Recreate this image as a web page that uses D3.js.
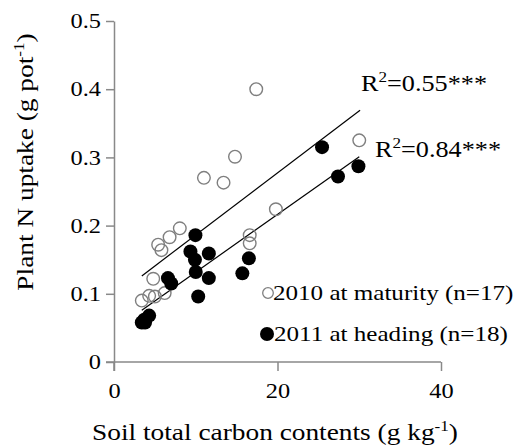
<!DOCTYPE html>
<html>
<head>
<meta charset="utf-8">
<script src="https://cdn.jsdelivr.net/npm/d3@7"></script>
<style>
  body { margin: 0; background: #fff; }
  svg text { font-family: "Liberation Serif", "Times New Roman", serif; }
  .axis path, .axis line { stroke: #898989; stroke-width: 1.5; }
  .axis text { font-size: 21px; fill: #000; }
</style>
</head>
<body>
<svg width="520" height="446"></svg>
<script>
// 2010 at maturity (open circles)
const x2010 = [17.4, 14.8, 11.0, 13.4, 30.0, 19.8, 8.05, 6.8, 5.4, 5.8, 16.6, 16.6, 4.8, 3.4, 4.3, 5.0, 6.2];
const y2010 = [0.400, 0.301, 0.270, 0.263, 0.325, 0.224, 0.196, 0.183, 0.172, 0.164, 0.186, 0.174, 0.122, 0.090, 0.097, 0.096, 0.101];
// 2011 at heading (filled circles)
const x2011 = [25.45, 27.4, 29.9, 9.96, 9.35, 9.9, 11.6, 10.0, 11.6, 10.3, 6.6, 7.0, 15.7, 16.5, 3.4, 3.8, 4.3, 3.7];
const y2011 = [0.315, 0.272, 0.287, 0.186, 0.162, 0.150, 0.159, 0.132, 0.123, 0.096, 0.123, 0.115, 0.130, 0.152, 0.058, 0.058, 0.068, 0.062];
// fitted lines: [slope, intercept, xstart, xend]
const fit2010 = [0.0091, 0.0953, 3.4, 30.1];
const fit2011 = [0.00846, 0.0472, 3.4, 30.0];
const xTicks = [0, 20, 40];
const yTicks = [0, 0.1, 0.2, 0.3, 0.4, 0.5];

const svg = d3.select('svg');
const sx = 1.14; // glyphs in the reference are wider than Times
const tsx = 1.16;

const xScale = d3.scaleLinear().domain([0, 40]).range([114, 441]);
const yScale = d3.scaleLinear().domain([0, 0.5]).range([362, 21]);

const xAxisG = svg.append('g')
  .attr('class', 'axis')
  .attr('transform', `translate(0,${yScale(0)})`)
  .call(d3.axisBottom(xScale).tickValues(xTicks).tickFormat(d3.format('d'))
    .tickSize(9).tickSizeOuter(0).tickPadding(12));
xAxisG.attr('font-family', null).attr('font-size', null);
xAxisG.select('.domain').attr('d', `M${xScale(0) - 8},0H${xScale(40)}`);
xAxisG.selectAll('.tick text').attr('transform', `scale(${tsx},1)`);

const yAxisG = svg.append('g')
  .attr('class', 'axis')
  .attr('transform', `translate(${xScale(0)},0)`)
  .call(d3.axisLeft(yScale).tickValues(yTicks).tickFormat(d => d === 0 ? '0' : d3.format('.1f')(d))
    .tickSize(8).tickSizeOuter(0).tickPadding(6));
yAxisG.attr('font-family', null).attr('font-size', null);
yAxisG.selectAll('.tick text').attr('x', -13 / tsx).attr('transform', `scale(${tsx},1)`);
// y axis runs down past 0 like a tick
yAxisG.append('line').attr('x1', 0).attr('x2', 0).attr('y1', yScale(0)).attr('y2', yScale(0) + 9);

function label(x, y, size, rot) {
  return svg.append('text')
    .attr('transform', `translate(${x},${y})` + (rot ? ` rotate(${rot})` : '') + ` scale(${sx},1)`)
    .attr('font-size', size)
    .attr('fill', '#000');
}

// regression lines
[fit2010, fit2011].forEach(f => {
  svg.append('line')
    .attr('x1', xScale(f[2])).attr('y1', yScale(f[0] * f[2] + f[1]))
    .attr('x2', xScale(f[3])).attr('y2', yScale(f[0] * f[3] + f[1]))
    .attr('stroke', '#000').attr('stroke-width', 1.2);
});

// points
svg.append('g').selectAll('circle').data(x2010.map((x, i) => [x, y2010[i]]))
  .enter().append('circle')
  .attr('cx', d => xScale(d[0])).attr('cy', d => yScale(d[1])).attr('r', 6.3)
  .attr('fill', 'none').attr('stroke', '#7f7f7f').attr('stroke-width', 1.4);

svg.append('g').selectAll('circle').data(x2011.map((x, i) => [x, y2011[i]]))
  .enter().append('circle')
  .attr('cx', d => xScale(d[0])).attr('cy', d => yScale(d[1])).attr('r', 7)
  .attr('fill', '#000');

// R2 labels
function r2(x, y, val) {
  const t = label(x, y, 23);
  t.append('tspan').text('R');
  t.append('tspan').attr('font-size', 15).attr('dy', -9).text('2');
  t.append('tspan').attr('dy', 9).text('=' + val + '***');
}
r2(361, 91, '0.55');
r2(375, 157, '0.84');

// legend
svg.append('circle').attr('cx', 268).attr('cy', 293).attr('r', 5.3)
  .attr('fill', 'none').attr('stroke', '#7f7f7f').attr('stroke-width', 1.3);
label(273, 300, 22).text('2010 at maturity (n=17)');
svg.append('circle').attr('cx', 267).attr('cy', 334).attr('r', 7).attr('fill', '#000');
label(274, 341, 22).text('2011 at heading (n=18)');

// axis titles
const xt = label(275, 440, 24).attr('text-anchor', 'middle');
xt.append('tspan').text('Soil total carbon contents (g kg');
xt.append('tspan').attr('font-size', 15).attr('dy', -9).text('-1');
xt.append('tspan').attr('dy', 9).text(')');

const yt = label(33, 162, 24, -90).attr('text-anchor', 'middle');
yt.append('tspan').text('Plant N uptake (g pot');
yt.append('tspan').attr('font-size', 15).attr('dy', -9).text('-1');
yt.append('tspan').attr('dy', 9).text(')');
</script>
</body>
</html>
